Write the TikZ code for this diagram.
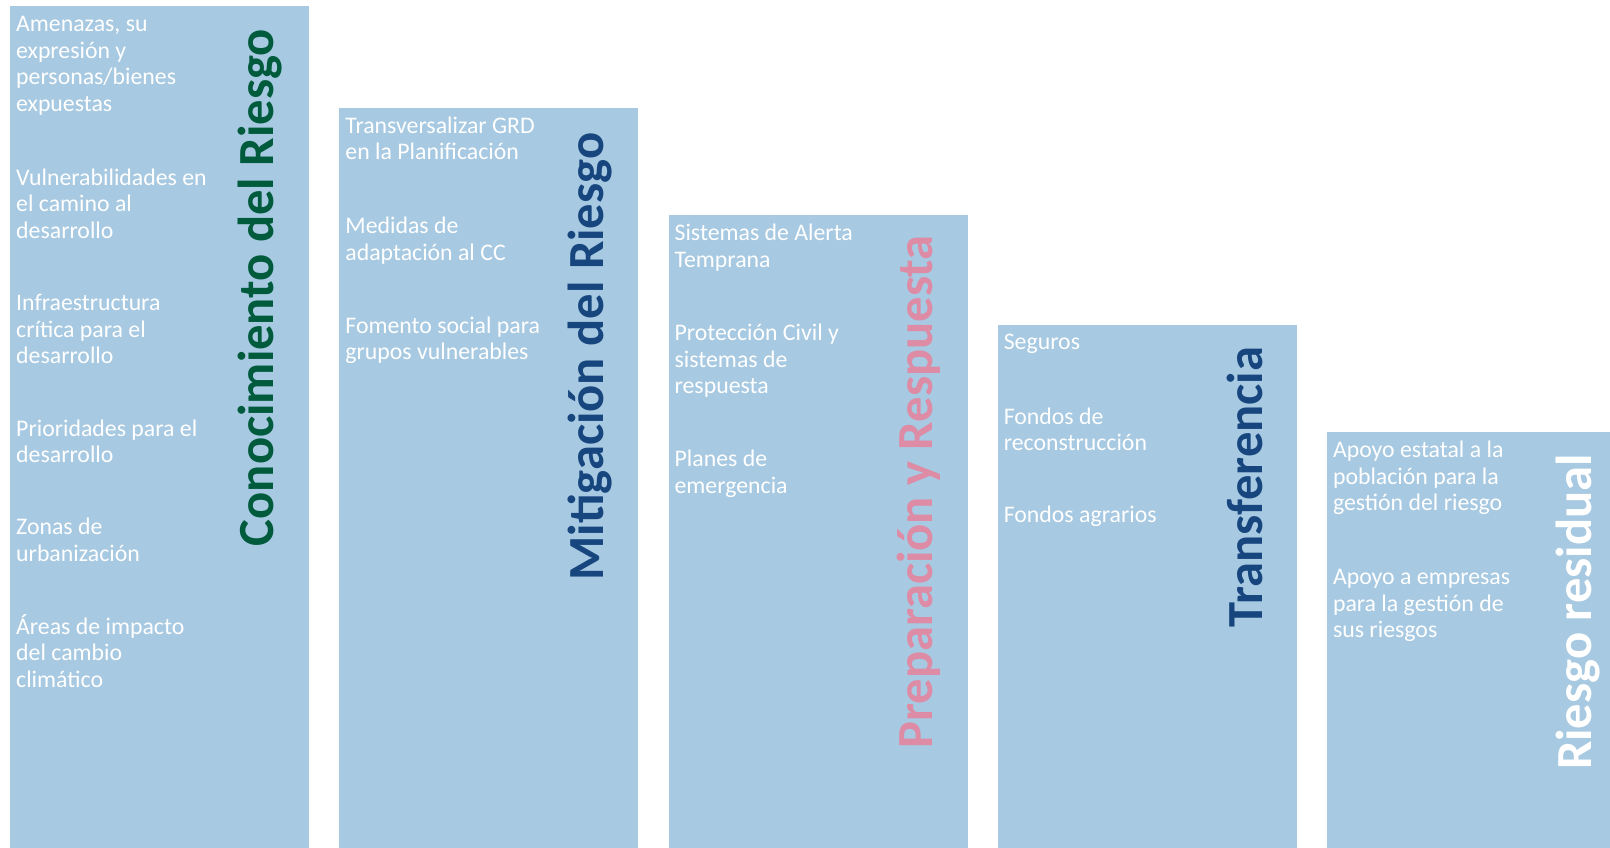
\documentclass[tikz,border=0pt]{standalone}
\usepackage{fontspec}
\setmainfont{Carlito}
\usetikzlibrary{positioning}
\definecolor{colfill}{RGB}{167,201,225}
\definecolor{riskgreen}{RGB}{0,90,60}
\definecolor{risknavy}{RGB}{23,70,127}
\definecolor{riskpink}{RGB}{222,139,165}
\begin{document}
\begin{tikzpicture}
    [x=1pt,y=1pt,
     col/.style ={fill=colfill,inner sep=0,minimum width=299pt,minimum height=845pt},
     items/.style ={text=white,align=left,inner sep=0,font=\fontsize{23.8}{26.5}\selectfont},
     title/.style ={rotate=90,anchor=base,inner sep=0,font=\fontsize{50.6}{60}\selectfont\bfseries}]
    \path[use as bounding box,clip] (0,0) rectangle (1610,-847);
    \node[col,anchor=north west] (c1) at (10,-6) {};
    \node[col,below right=101.7pt and 29.8pt of c1.north east] (c2) {};
    \node[col,below right=107.3pt and 29.8pt of c2.north east] (c3) {};
    \node[col,below right=109.3pt and 29.8pt of c3.north east] (c4) {};
    \node[col,below right=107.7pt and 29.8pt of c4.north east] (c5) {};
    \node[items,below right=7.3pt and 6pt of c1.north west] (l1) {\rule{0pt}{18pt}Amenazas, su\\expresión y\\personas/bienes\\expuestas\\[47.5pt]Vulnerabilidades en\\el camino al\\desarrollo\\[46pt]Infraestructura\\crítica para el\\desarrollo\\[46pt]Prioridades para el\\desarrollo\\[45.5pt]Zonas de\\urbanización\\[46.5pt]Áreas de impacto\\del cambio\\climático};
    \node[items,below right=7.3pt and 6pt of c2.north west] (l2) {\rule{0pt}{18pt}Transversalizar GRD\\en la Planificación\\[47.5pt]Medidas de\\adaptación al CC\\[46.5pt]Fomento social para\\grupos vulnerables};
    \node[items,below right=7.3pt and 6pt of c3.north west] (l3) {\rule{0pt}{18pt}Sistemas de Alerta\\Temprana\\[47pt]Protección Civil y\\sistemas de\\respuesta\\[46.5pt]Planes de\\emergencia};
    \node[items,below right=7.3pt and 6pt of c4.north west] (l4) {\rule{0pt}{18pt}Seguros\\[48pt]Fondos de\\reconstrucción\\[45pt]Fondos agrarios};
    \node[items,below right=7.3pt and 6pt of c5.north west] (l5) {\rule{0pt}{18pt}Apoyo estatal a la\\población para la\\gestión del riesgo\\[47.5pt]Apoyo a empresas\\para la gestión de\\sus riesgos};
    \node[title,text=riskgreen] (t1) at ([shift={(-36pt,-281.5pt)}]c1.north east) {Conocimiento del Riesgo};
    \node[title,text=risknavy] (t2) at ([shift={(-35.6pt,-248.8pt)}]c2.north east) {Mitigación del Riesgo};
    \node[title,text=riskpink] (t3) at ([shift={(-35pt,-277pt)}]c3.north east) {Preparación y Respuesta};
    \node[title,text=risknavy] (t4) at ([shift={(-34.3pt,-162.5pt)}]c4.north east) {Transferencia};
    \node[title,text=white] (t5) at ([shift={(-34.3pt,-180pt)}]c5.north east) {Riesgo residual};
\end{tikzpicture}
\end{document}
